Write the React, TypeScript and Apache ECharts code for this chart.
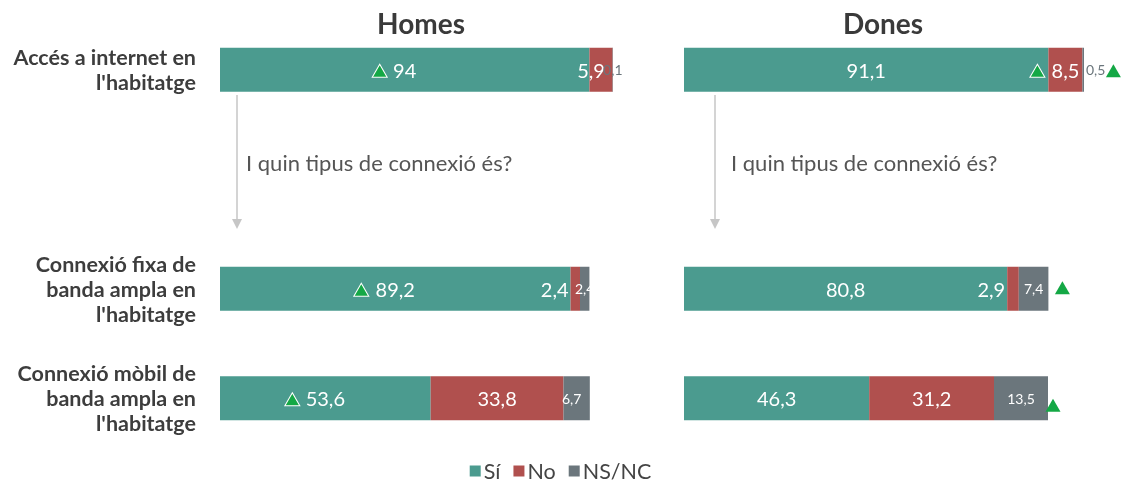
import React, { useEffect, useRef } from "react";
import * as echarts from "echarts";

const rowLabels = [
  "Accés a internet en\nl'habitatge",
  "",
  "Connexió fixa de\nbanda ampla en\nl'habitatge",
  "Connexió mòbil de\nbanda ampla en\nl'habitatge",
];
const seriesNames = ["Sí", "No", "NS/NC"];

const homesSi = [94, null, 89.2, 53.6];
const homesNo = [5.9, null, 2.4, 33.8];
const homesNs = [0.1, null, 2.4, 6.7];
const donesSi = [91.1, null, 80.8, 46.3];
const donesNo = [8.5, null, 2.9, 31.2];
const donesNs = [0.5, null, 7.4, 13.5];

// significance markers
const homesSiUp = [true, false, true, true];
const donesNoUp = [true, false, false, false];
const donesRowUp = [true, false, true, true];

// label / marker shifts (style only, pixels)
const homesShift = [[0, 0, 0, 0], [-10, -20, 0, 0], [0, 0, 0, -5]];
const donesShift = [[0, 0, 0, 0], [0, -25, 0, 0], [12, 0, 0, 0]];
const homesTriOffset = [[-25, 1], [0, 0], [-34, 1], [-33, 1]];
const donesNoTriOffset = [[-28, 1], [0, 0], [0, 0], [0, 0]];
const donesTriOffset = [[29, 1], [0, 0], [14, -1], [5, 7]];

const TEAL = "#4b9b8f";
const RED = "#b0504e";
const GREY = "#6b767c";
const GREEN = "#14a845";
const colors = [TEAL, RED, GREY];

const fmt = (v: number) => String(v).replace(".", ",");

function buildSeries(groups: (number | null)[][], shifts: number[][], gridIdx: number) {
  return groups.map((data, s) => ({
    name: seriesNames[s],
    type: "bar",
    stack: "g" + gridIdx,
    xAxisIndex: gridIdx,
    yAxisIndex: gridIdx,
    barWidth: 44,
    itemStyle: { color: colors[s] },
    data: data.map((v, i) => {
      if (v == null) return null;
      const small = s === 2;
      const outside = small && v < 1;
      const smallNo = s === 1 && v < 5;
      return {
        value: v,
        label: {
          show: true,
          position: outside && gridIdx === 1 ? "right" : smallNo ? "left" : "inside",
          distance: 2,
          offset: [outside && gridIdx === 1 ? 0 : shifts[s][i], 0],
          formatter: fmt(v),
          color: outside ? GREY : "#ffffff",
          fontFamily: "Lato",
          fontSize: small ? 14 : 20,
        },
      };
    }),
  }));
}

function triSeries(gridIdx: number, points: (any | null)[], border: boolean) {
  return {
    type: "scatter",
    xAxisIndex: gridIdx,
    yAxisIndex: gridIdx,
    symbol: "triangle",
    symbolSize: [15, 13],
    clip: false,
    silent: true,
    itemStyle: {
      color: GREEN,
      opacity: 1,
      borderColor: "#ffffff",
      borderWidth: border ? 1 : 0,
    },
    data: points,
    z: 5,
  };
}

export default function App() {
  const ref = useRef<HTMLDivElement>(null);
  useEffect(() => {
    const chart = echarts.init(ref.current!, null, { renderer: "svg" });
    const yAxisBase = {
      type: "category",
      data: rowLabels,
      inverse: true,
      axisLine: { show: false },
      axisTick: { show: false },
      splitLine: { show: false },
    };
    const xAxisBase = { type: "value", min: 0, max: 100, show: false };

    const homesTri = homesSi.map((v, i) =>
      v == null || !homesSiUp[i] ? null : { value: [v / 2, i], symbolOffset: homesTriOffset[i] }
    );
    const donesNoTri = donesNo.map((v, i) =>
      v == null || !donesNoUp[i]
        ? null
        : { value: [(donesSi[i] as number) + v / 2, i], symbolOffset: donesNoTriOffset[i] }
    );
    const donesTri = donesSi.map((v, i) =>
      v == null || !donesRowUp[i]
        ? null
        : {
            value: [v + (donesNo[i] as number) + (donesNs[i] as number), i],
            symbolOffset: donesTriOffset[i],
          }
    );

    const arrow = (x: number) => [
      {
        type: "line",
        shape: { x1: x, y1: 95, x2: x, y2: 221 },
        style: { stroke: "#c6c6c6", lineWidth: 1.5 },
      },
      {
        type: "polygon",
        shape: { points: [[x - 5, 219], [x + 5, 219], [x, 229]] },
        style: { fill: "#c6c6c6" },
      },
    ];
    const question = (x: number) => ({
      type: "text",
      x,
      y: 162,
      style: {
        text: "I quin tipus de connexió és?",
        fontFamily: "Lato",
        fontSize: 22,
        fill: "#555555",
        verticalAlign: "middle",
      },
    });
    const titleStyle = { fontFamily: "Lato", fontSize: 28, fontWeight: "bold", color: "#3a3a3a" };
    chart.setOption({
      animation: false,
      textStyle: { fontFamily: "Lato" },
      title: [
        { text: "Homes", left: 416, top: 4, textAlign: "center", textStyle: titleStyle },
        { text: "Dones", left: 878, top: 4, textAlign: "center", textStyle: titleStyle },
      ],
      legend: {
        data: seriesNames,
        bottom: 2,
        left: "center",
        icon: "rect",
        itemWidth: 11,
        itemHeight: 11,
        itemGap: 13,
        textStyle: { fontFamily: "Lato", fontSize: 21.5, color: "#444444", padding: [0, 0, 0, -2] },
      },
      grid: [
        { left: 220, width: 393, top: 15, height: 438 },
        { left: 684, width: 400, top: 15, height: 438 },
      ],
      xAxis: [
        { ...xAxisBase, gridIndex: 0 },
        { ...xAxisBase, gridIndex: 1 },
      ],
      yAxis: [
        {
          ...yAxisBase,
          gridIndex: 0,
          axisLabel: {
            margin: 24,
            fontFamily: "Lato",
            fontSize: 21.5,
            fontWeight: "bold",
            color: "#3d3d3d",
            lineHeight: 25,
            align: "right",
          },
        },
        { ...yAxisBase, gridIndex: 1, axisLabel: { show: false } },
      ],
      series: [
        ...buildSeries([homesSi, homesNo, homesNs], homesShift, 0),
        ...buildSeries([donesSi, donesNo, donesNs], donesShift, 1),
        triSeries(0, homesTri, true),
        triSeries(1, donesNoTri, true),
        triSeries(1, donesTri, false),
      ],
      graphic: [...arrow(237), ...arrow(715), question(246), question(731)],
    });
    return () => chart.dispose();
  }, []);
  return (
    <div ref={ref} style={{ position: "fixed", left: 0, top: 0, width: 1121, height: 489 }} />
  );
}
